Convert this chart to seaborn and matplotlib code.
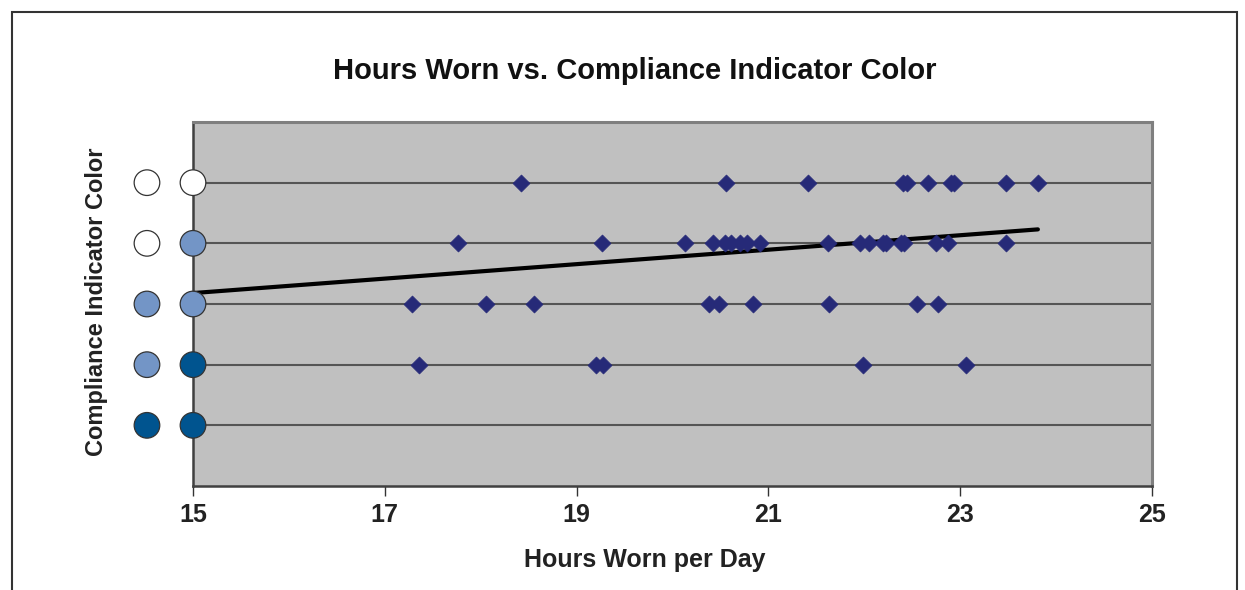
import numpy as np
import pandas as pd
import matplotlib
matplotlib.use("Agg")
import matplotlib.pyplot as plt
import matplotlib.transforms as mtransforms
import seaborn as sns

# ---- data ----
row5_hours = [18.42, 20.56, 21.41, 22.40, 22.45, 22.66, 22.90, 22.94, 23.48, 23.81]
row4_hours = [17.76, 19.26, 20.13, 20.42, 20.55, 20.61, 20.70, 20.78, 20.91,
              21.62, 21.95, 22.05, 22.20, 22.23, 22.38, 22.41, 22.75, 22.87, 23.48]
row3_hours = [17.28, 18.06, 18.56, 20.38, 20.49, 20.84, 21.63, 22.55, 22.77]
row2_hours = [17.36, 19.20, 19.28, 21.99, 23.06]
row1_hours = []

levels = [1, 2, 3, 4, 5]
x_ticks = [15, 17, 19, 21, 23, 25]
trend_x = [15.0, 23.81]
trend_y = [3.18, 4.23]

# indicator color pairs for each level (left, right)
WHITE, LIGHT, DARK = "#FFFFFF", "#7395C6", "#00548F"
indicator_left = [DARK, LIGHT, LIGHT, WHITE, WHITE]
indicator_right = [DARK, DARK, LIGHT, LIGHT, WHITE]

hours = row1_hours + row2_hours + row3_hours + row4_hours + row5_hours
codes = ([1] * len(row1_hours) + [2] * len(row2_hours) + [3] * len(row3_hours)
         + [4] * len(row4_hours) + [5] * len(row5_hours))
df = pd.DataFrame({"hours": hours, "level": codes})
trend = pd.DataFrame({"x": trend_x, "y": trend_y})

sns.set_theme(style="white")
plt.rcParams["font.family"] = ["Liberation Sans", "DejaVu Sans"]
plt.rcParams["font.weight"] = "bold"

fig = plt.figure(figsize=(12.45, 5.9), dpi=100)
ax = fig.add_axes([193 / 1245, 1 - 486 / 590, (1152 - 193) / 1245, (486 - 122) / 590])
ax.set_facecolor("#C0C0C0")

ax.set_xlim(15, 25)
ax.set_ylim(0, 6)
ax.set_yticks(levels)
ax.yaxis.grid(True, color="#555555", linewidth=1.5)
ax.xaxis.grid(False)
ax.set_axisbelow(True)

sns.lineplot(data=trend, x="x", y="y", ax=ax, color="black", linewidth=3, zorder=3)
sns.scatterplot(data=df, x="hours", y="level", ax=ax, marker="D", s=75,
                color="#262A78", edgecolor="#262A78", linewidth=0.5, zorder=4)

ax.set_xticks(x_ticks)
ax.set_xticklabels([str(t) for t in x_ticks], fontsize=18, fontweight="bold", color="#222222")
ax.tick_params(axis="x", direction="out", length=7, width=1, color="#333333", pad=5, bottom=True)
ax.tick_params(axis="y", length=0, labelleft=False)

for side in ["left", "bottom"]:
    ax.spines[side].set_color("#404040")
    ax.spines[side].set_linewidth(1.8)
for side in ["top", "right"]:
    ax.spines[side].set_color("#7F7F7F")
    ax.spines[side].set_linewidth(2.2)

ax.set_xlabel("")
ax.set_ylabel("")

# indicator circles to the left of the axis
trans = mtransforms.blended_transform_factory(ax.transAxes, ax.transData)
ax.scatter([-0.048] * len(levels), levels, s=340, c=indicator_left, edgecolors="#333333",
           linewidths=0.9, transform=trans, clip_on=False, zorder=5)
ax.scatter([0.0] * len(levels), levels, s=340, c=indicator_right, edgecolors="#333333",
           linewidths=0.9, transform=trans, clip_on=False, zorder=5)

fig.text(645 / 1245, 1 - 560 / 590, "Hours Worn per Day", ha="center", va="center",
         fontsize=18, fontweight="bold", color="#222222")
fig.text(96 / 1245, 1 - 302 / 590, "Compliance Indicator Color", rotation=90, ha="center",
         va="center", fontsize=17, fontweight="bold", color="#222222")
fig.text(635 / 1245, 1 - 71 / 590, "Hours Worn vs. Compliance Indicator Color", ha="center",
         va="center", fontsize=21, fontweight="bold", color="#111111")

# outer frame
frame = plt.Rectangle((12 / 1245, -0.05), (1237 - 12) / 1245, 1 - 12 / 590 + 0.05,
                      transform=fig.transFigure, fill=False, edgecolor="#333333", linewidth=1.5)
fig.patches.append(frame)

fig.savefig("out.png", dpi=100, facecolor="white")
